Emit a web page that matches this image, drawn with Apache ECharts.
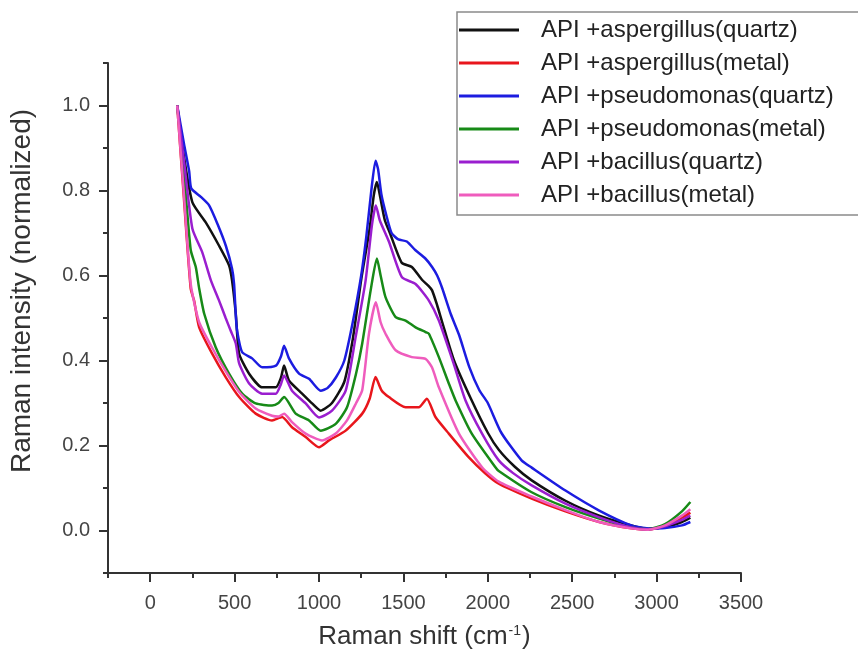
<!DOCTYPE html>
<html>
<head>
<meta charset="utf-8">
<script src="https://cdn.jsdelivr.net/npm/echarts@6/dist/echarts.min.js"></script>
<style>
html,body{margin:0;padding:0;background:#fff;}
#chart{width:858px;height:655px;}
</style>
</head>
<body>
<div id="chart"></div>
<script>
// ---- data ----
const seriesNames = [
  'API +aspergillus(quartz)',
  'API +aspergillus(metal)',
  'API +pseudomonas(quartz)',
  'API +pseudomonas(metal)',
  'API +bacillus(quartz)',
  'API +bacillus(metal)'
];
const xTickLabels = [0, 500, 1000, 1500, 2000, 2500, 3000, 3500];
const xMinorTicks = [-250, 250, 750, 1250, 1750, 2250, 2750, 3250];
const yTickLabels = [0, 0.2, 0.4, 0.6, 0.8, 1.0];
const yMinorTicks = [-0.1, 0.1, 0.3, 0.5, 0.7, 0.9, 1.1];

const aspQuartzX = [160,200,250,329,408,467,485,507,527,586,663,744,775,793,822,900,959,1010,1077,1150,1200,1250,1300,1325,1343,1360,1390,1420,1490,1550,1610,1650,1670,1700,1730,1800,1900,2000,2065,2160,2260,2460,2660,2850,2950,3050,3150,3200];
const aspQuartzY = [1.0,0.88,0.772,0.725,0.67,0.624,0.588,0.51,0.416,0.369,0.337,0.337,0.36,0.388,0.353,0.322,0.299,0.282,0.30,0.35,0.45,0.59,0.71,0.79,0.82,0.79,0.73,0.70,0.63,0.62,0.59,0.575,0.565,0.53,0.49,0.40,0.31,0.23,0.19,0.15,0.118,0.07,0.035,0.012,0.004,0.008,0.02,0.03];

const aspMetalX = [160,200,240,260,290,367,447,527,625,722,781,840,921,1000,1059,1158,1256,1300,1335,1370,1414,1513,1591,1639,1690,1769,1888,1986,2065,2260,2460,2660,2850,2950,3050,3150,3200];
const aspMetalY = [1.0,0.78,0.569,0.541,0.478,0.416,0.361,0.314,0.275,0.259,0.267,0.243,0.22,0.196,0.212,0.235,0.275,0.31,0.361,0.33,0.314,0.29,0.29,0.31,0.267,0.228,0.172,0.134,0.11,0.075,0.045,0.02,0.005,0.002,0.01,0.03,0.042];

const pseQuartzX = [160,200,231,243,300,349,400,448,485,497,507,515,544,604,663,745,775,793,822,882,941,1010,1050,1100,1150,1200,1250,1280,1310,1335,1350,1370,1400,1430,1470,1520,1570,1630,1670,1700,1730,1780,1830,1890,1950,2000,2080,2200,2260,2460,2660,2850,2950,3050,3150,3200];
const pseQuartzY = [1.0,0.91,0.845,0.805,0.785,0.765,0.72,0.67,0.616,0.58,0.506,0.47,0.42,0.405,0.384,0.388,0.41,0.435,0.405,0.369,0.357,0.329,0.335,0.36,0.40,0.49,0.60,0.69,0.80,0.87,0.85,0.79,0.74,0.70,0.685,0.68,0.66,0.64,0.62,0.60,0.57,0.51,0.46,0.385,0.33,0.30,0.23,0.165,0.148,0.094,0.047,0.012,0.005,0.006,0.012,0.02];

const pseMetalX = [160,200,240,270,290,320,388,467,545,625,722,760,793,862,941,1010,1099,1166,1220,1256,1306,1343,1365,1394,1454,1513,1572,1631,1651,1710,1769,1809,1905,2045,2065,2260,2460,2660,2850,2950,3050,3150,3200];
const pseMetalY = [1.0,0.84,0.66,0.62,0.57,0.51,0.431,0.369,0.322,0.299,0.294,0.30,0.314,0.275,0.259,0.235,0.251,0.29,0.37,0.44,0.565,0.64,0.60,0.549,0.502,0.494,0.478,0.467,0.463,0.408,0.346,0.306,0.228,0.149,0.14,0.09,0.055,0.028,0.007,0.003,0.015,0.045,0.067];

const bacQuartzX = [160,200,250,308,360,408,447,477,507,527,586,663,744,775,793,840,921,1000,1077,1158,1217,1276,1314,1337,1360,1414,1491,1572,1651,1710,1800,1868,1966,2065,2150,2260,2460,2660,2850,2950,3050,3150,3200];
const bacQuartzY = [1.0,0.87,0.71,0.655,0.588,0.541,0.50,0.47,0.44,0.393,0.346,0.322,0.322,0.345,0.365,0.329,0.299,0.266,0.282,0.329,0.455,0.588,0.72,0.765,0.73,0.68,0.596,0.58,0.541,0.494,0.39,0.306,0.228,0.165,0.135,0.106,0.063,0.031,0.007,0.003,0.01,0.025,0.035];

const bacMetalX = [160,200,240,290,367,447,527,625,722,760,793,840,921,1018,1099,1166,1220,1256,1296,1337,1365,1394,1454,1550,1631,1669,1710,1829,1966,2065,2260,2460,2660,2850,2950,3050,3150,3200];
const bacMetalY = [1.0,0.79,0.58,0.49,0.43,0.375,0.326,0.287,0.27,0.268,0.275,0.255,0.228,0.212,0.228,0.259,0.30,0.33,0.463,0.537,0.49,0.463,0.424,0.408,0.404,0.384,0.337,0.228,0.149,0.115,0.08,0.048,0.02,0.005,0.002,0.012,0.035,0.05];

const seriesX = [aspQuartzX, aspMetalX, pseQuartzX, pseMetalX, bacQuartzX, bacMetalX];
const seriesY = [aspQuartzY, aspMetalY, pseQuartzY, pseMetalY, bacQuartzY, bacMetalY];
const seriesColors = ['#111111', '#e8161c', '#1c1ce0', '#178a17', '#9a1ecf', '#ef5cbd'];

// ---- chart ----
const FONT = "'Liberation Sans', Arial, sans-serif";
const chart = echarts.init(document.getElementById('chart'), null, {renderer: 'canvas'});

function pairs(xs, ys) { return xs.map((x, i) => [x, ys[i]]); }

const series = seriesNames.map((name, i) => ({
  name: name,
  type: 'line',
  xAxisIndex: 0,
  yAxisIndex: 0,
  data: pairs(seriesX[i], seriesY[i]),
  showSymbol: false,
  symbol: 'none',
  smooth: 0.2,
  lineStyle: {color: seriesColors[i], width: 2.5},
  itemStyle: {color: seriesColors[i]},
  animation: false,
  z: 2
}));

const axisLineStyle = {color: '#333', width: 2};

chart.setOption({
  backgroundColor: '#fff',
  animation: false,
  textStyle: {fontFamily: FONT},
  grid: {left: 108, right: 117, top: 63, bottom: 82, containLabel: false},
  legend: {
    orient: 'vertical',
    left: 457,
    top: 12,
    padding: [6, 30, 8, 2],
    backgroundColor: '#fff',
    borderColor: '#8a8a8a',
    borderWidth: 1.5,
    itemWidth: 60,
    itemHeight: 3,
    itemGap: 9,
    icon: 'rect',
    data: seriesNames,
    textStyle: {fontFamily: FONT, fontSize: 24, color: '#222', lineHeight: 24, padding: [0, 0, 0, 17]}
  },
  xAxis: [{
    type: 'value',
    min: -250,
    max: 3500,
    position: 'bottom',
    name: 'Raman shift (cm{sup|-1})',
    nameLocation: 'middle',
    nameGap: 51,
    nameTextStyle: {
      fontFamily: FONT, fontSize: 26, color: '#333',
      rich: {sup: {fontFamily: FONT, fontSize: 14, color: '#333', verticalAlign: 'top', padding: [0, 1, 12, 1]}}
    },
    splitLine: {show: false},
    axisLine: {show: true, onZero: false, lineStyle: axisLineStyle},
    axisTick: {show: true, inside: false, length: 9, lineStyle: axisLineStyle, customValues: xTickLabels},
    axisLabel: {show: true, margin: 20, fontFamily: FONT, fontSize: 20, color: '#444', customValues: xTickLabels,
      formatter: v => String(Math.round(v))}
  }, {
    type: 'value',
    min: -250,
    max: 3500,
    position: 'bottom',
    splitLine: {show: false},
    axisLine: {show: false, onZero: false},
    axisTick: {show: true, inside: false, length: 5, lineStyle: axisLineStyle, customValues: xMinorTicks},
    axisLabel: {show: false}
  }],
  yAxis: [{
    type: 'value',
    min: -0.1,
    max: 1.1,
    position: 'left',
    name: 'Raman intensity (normalized)',
    nameLocation: 'middle',
    nameGap: 72,
    nameTextStyle: {fontFamily: FONT, fontSize: 28, color: '#333', padding: [0, 0, 0, 54]},
    splitLine: {show: false},
    axisLine: {show: true, onZero: false, lineStyle: axisLineStyle},
    axisTick: {show: true, inside: false, length: 9, lineStyle: axisLineStyle, customValues: yTickLabels},
    axisLabel: {show: true, margin: 18, fontFamily: FONT, fontSize: 20, color: '#444', customValues: yTickLabels,
      formatter: v => Number(v).toFixed(1)}
  }, {
    type: 'value',
    min: -0.1,
    max: 1.1,
    position: 'left',
    offset: 0,
    splitLine: {show: false},
    axisLine: {show: false, onZero: false},
    axisTick: {show: true, inside: false, length: 5, lineStyle: axisLineStyle, customValues: yMinorTicks},
    axisLabel: {show: false}
  }],
  series: series
});
</script>
</body>
</html>
